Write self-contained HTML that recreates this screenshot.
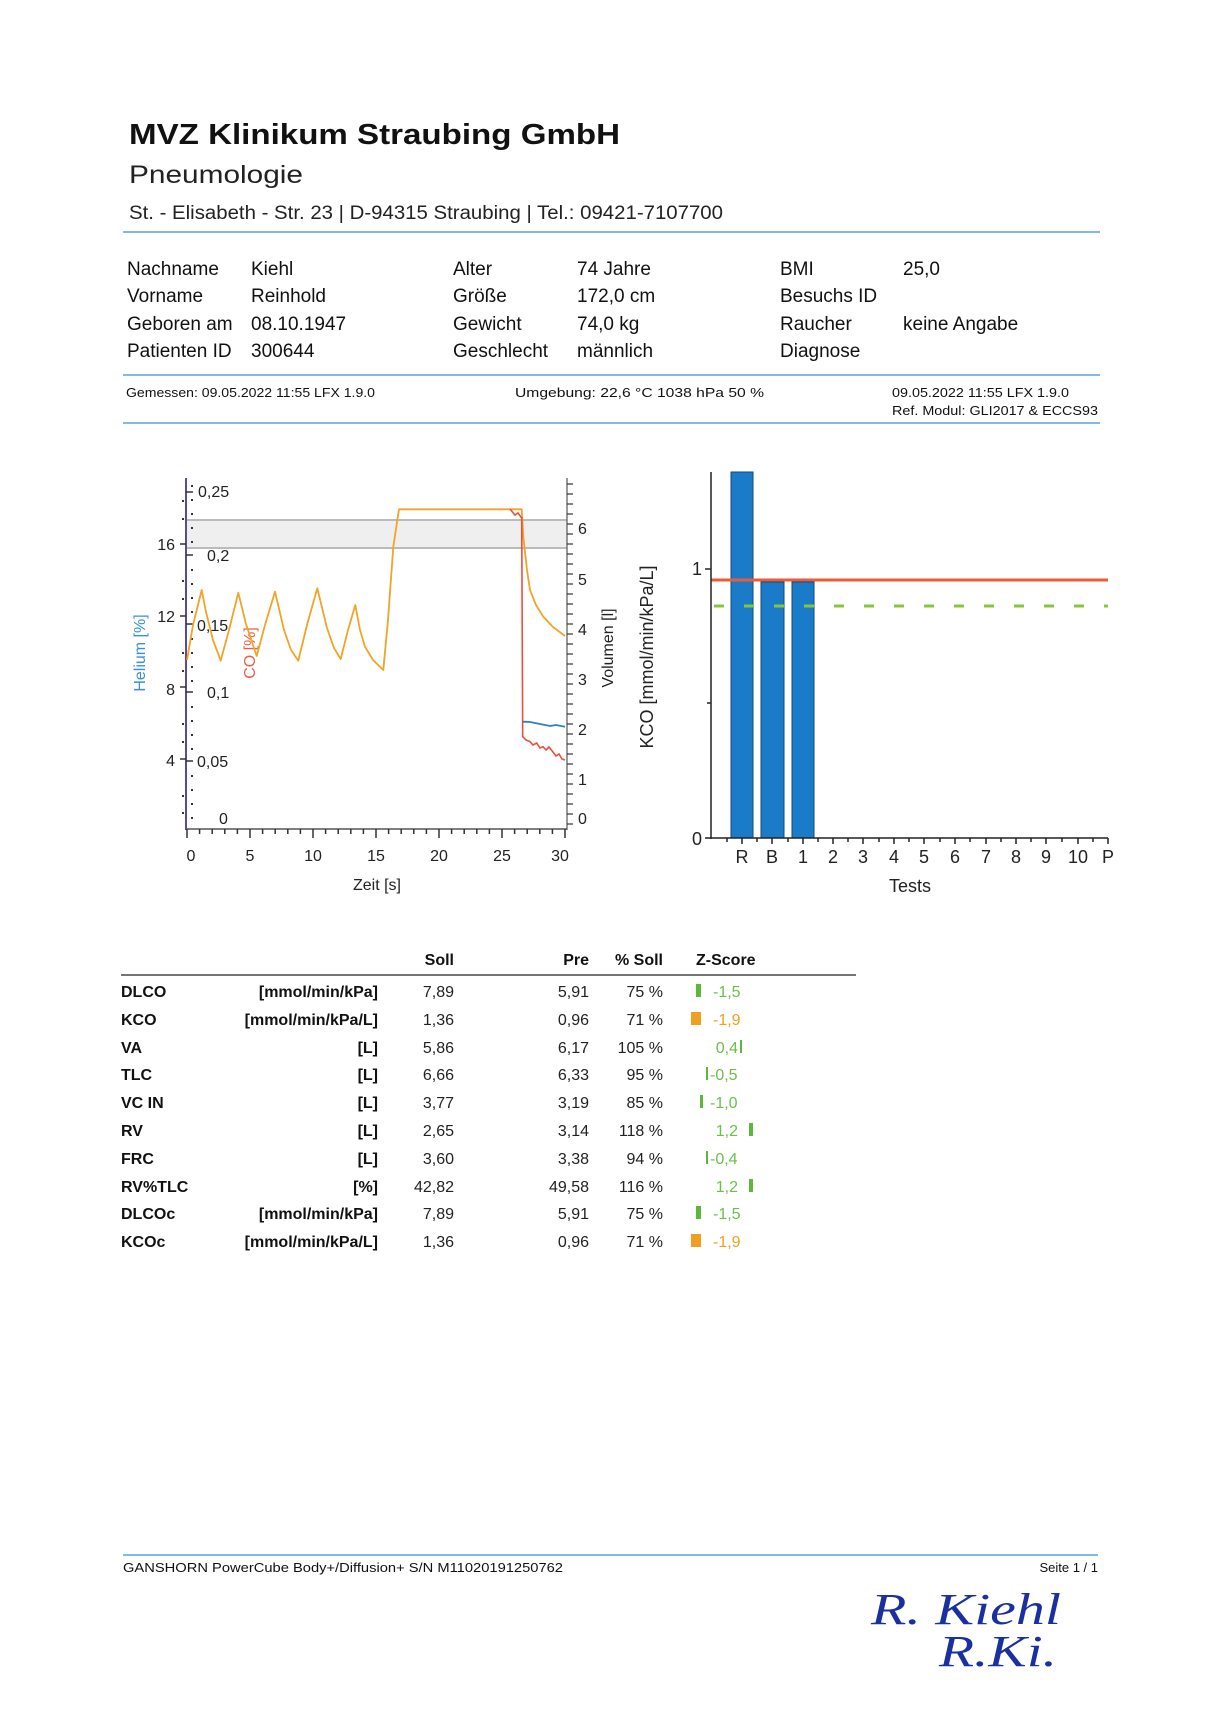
<!DOCTYPE html>
<html><head><meta charset="utf-8"><style>
html,body{margin:0;padding:0;background:#fff;}
svg{display:block;font-family:"Liberation Sans",sans-serif;}
</style></head><body>
<svg width="1217" height="1722" viewBox="0 0 1217 1722" xmlns="http://www.w3.org/2000/svg">
<rect width="1217" height="1722" fill="#fff"/>
<!-- Header -->
<text x="129" y="144" font-size="29" font-weight="bold" fill="#111" textLength="491" lengthAdjust="spacingAndGlyphs">MVZ Klinikum Straubing GmbH</text>
<text x="129" y="183" font-size="25" fill="#222" textLength="174" lengthAdjust="spacingAndGlyphs">Pneumologie</text>
<text x="129" y="219" font-size="19" fill="#222" textLength="594" lengthAdjust="spacingAndGlyphs">St. - Elisabeth - Str. 23 | D-94315 Straubing | Tel.: 09421-7107700</text>
<line x1="123" y1="232" x2="1100" y2="232" stroke="#5aa3d8" stroke-width="1.5"/>
<g font-size="19" fill="#111">
<text x="127" y="275">Nachname</text><text x="251" y="275">Kiehl</text>
<text x="127" y="302">Vorname</text><text x="251" y="302">Reinhold</text>
<text x="127" y="330">Geboren am</text><text x="251" y="330">08.10.1947</text>
<text x="127" y="357">Patienten ID</text><text x="251" y="357">300644</text>
<text x="453" y="275">Alter</text><text x="577" y="275">74 Jahre</text>
<text x="453" y="302">Größe</text><text x="577" y="302">172,0 cm</text>
<text x="453" y="330">Gewicht</text><text x="577" y="330">74,0 kg</text>
<text x="453" y="357">Geschlecht</text><text x="577" y="357">männlich</text>
<text x="780" y="275">BMI</text><text x="903" y="275">25,0</text>
<text x="780" y="302">Besuchs ID</text>
<text x="780" y="330">Raucher</text><text x="903" y="330">keine Angabe</text>
<text x="780" y="357">Diagnose</text>
</g>
<line x1="123" y1="375" x2="1100" y2="375" stroke="#5aa3d8" stroke-width="1.5"/>
<g font-size="13" fill="#111">
<text x="126" y="397" textLength="249" lengthAdjust="spacingAndGlyphs">Gemessen:  09.05.2022 11:55 LFX 1.9.0</text>
<text x="515" y="397" textLength="249" lengthAdjust="spacingAndGlyphs">Umgebung:  22,6 °C   1038 hPa   50 %</text>
<text x="892" y="397" textLength="177" lengthAdjust="spacingAndGlyphs">09.05.2022 11:55   LFX 1.9.0</text>
<text x="892" y="415" textLength="206" lengthAdjust="spacingAndGlyphs">Ref. Modul:   GLI2017 &amp; ECCS93</text>
</g>
<line x1="123" y1="423" x2="1100" y2="423" stroke="#5aa3d8" stroke-width="1.5"/>

<!-- Left chart -->
<rect x="187" y="520" width="380" height="28" fill="#efefef"/>
<line x1="187" y1="520" x2="567" y2="520" stroke="#bbb" stroke-width="2"/>
<line x1="187" y1="548" x2="567" y2="548" stroke="#bbb" stroke-width="2"/>
<line x1="186" y1="478" x2="186" y2="830" stroke="#5a4a9a" stroke-width="2"/>
<line x1="186" y1="829" x2="567" y2="829" stroke="#555" stroke-width="1.5"/>
<line x1="567" y1="478" x2="567" y2="830" stroke="#555" stroke-width="1.2"/>
<g stroke="#333" stroke-width="1.5">
<line x1="180" y1="544" x2="186" y2="544"/><line x1="180" y1="616" x2="186" y2="616"/><line x1="180" y1="687" x2="186" y2="687"/><line x1="180" y1="759" x2="186" y2="759"/>
<line x1="186" y1="492" x2="193" y2="492"/><line x1="186" y1="555" x2="193" y2="555"/><line x1="186" y1="624" x2="193" y2="624"/><line x1="186" y1="692" x2="193" y2="692"/><line x1="186" y1="761" x2="193" y2="761"/>
</g>
<g fill="#333">
<rect x="191" y="485" width="2" height="2"/><rect x="191" y="499" width="2" height="2"/><rect x="191" y="513" width="2" height="2"/><rect x="191" y="527" width="2" height="2"/><rect x="191" y="541" width="2" height="2"/><rect x="191" y="569" width="2" height="2"/><rect x="191" y="583" width="2" height="2"/><rect x="191" y="597" width="2" height="2"/><rect x="191" y="611" width="2" height="2"/><rect x="191" y="638" width="2" height="2"/><rect x="191" y="652" width="2" height="2"/><rect x="191" y="666" width="2" height="2"/><rect x="191" y="680" width="2" height="2"/><rect x="191" y="706" width="2" height="2"/><rect x="191" y="720" width="2" height="2"/><rect x="191" y="734" width="2" height="2"/><rect x="191" y="748" width="2" height="2"/><rect x="191" y="775" width="2" height="2"/><rect x="191" y="789" width="2" height="2"/><rect x="191" y="803" width="2" height="2"/><rect x="191" y="817" width="2" height="2"/>
<rect x="182" y="500" width="2" height="2"/><rect x="182" y="518" width="2" height="2"/><rect x="182" y="580" width="2" height="2"/><rect x="182" y="598" width="2" height="2"/><rect x="182" y="652" width="2" height="2"/><rect x="182" y="670" width="2" height="2"/><rect x="182" y="723" width="2" height="2"/><rect x="182" y="741" width="2" height="2"/><rect x="182" y="795" width="2" height="2"/><rect x="182" y="812" width="2" height="2"/>
</g>
<g stroke="#333" stroke-width="1.2">
<line x1="567" y1="484" x2="573" y2="484"/><line x1="567" y1="494" x2="573" y2="494"/><line x1="567" y1="504" x2="573" y2="504"/><line x1="567" y1="514" x2="573" y2="514"/><line x1="567" y1="524" x2="573" y2="524"/><line x1="567" y1="534" x2="573" y2="534"/><line x1="567" y1="544" x2="573" y2="544"/><line x1="567" y1="554" x2="573" y2="554"/><line x1="567" y1="564" x2="573" y2="564"/><line x1="567" y1="574" x2="573" y2="574"/><line x1="567" y1="584" x2="573" y2="584"/><line x1="567" y1="594" x2="573" y2="594"/><line x1="567" y1="604" x2="573" y2="604"/><line x1="567" y1="614" x2="573" y2="614"/><line x1="567" y1="624" x2="573" y2="624"/><line x1="567" y1="634" x2="573" y2="634"/><line x1="567" y1="644" x2="573" y2="644"/><line x1="567" y1="654" x2="573" y2="654"/><line x1="567" y1="664" x2="573" y2="664"/><line x1="567" y1="674" x2="573" y2="674"/><line x1="567" y1="684" x2="573" y2="684"/><line x1="567" y1="694" x2="573" y2="694"/><line x1="567" y1="704" x2="573" y2="704"/><line x1="567" y1="714" x2="573" y2="714"/><line x1="567" y1="724" x2="573" y2="724"/><line x1="567" y1="734" x2="573" y2="734"/><line x1="567" y1="744" x2="573" y2="744"/><line x1="567" y1="754" x2="573" y2="754"/><line x1="567" y1="764" x2="573" y2="764"/><line x1="567" y1="774" x2="573" y2="774"/><line x1="567" y1="784" x2="573" y2="784"/><line x1="567" y1="794" x2="573" y2="794"/><line x1="567" y1="804" x2="573" y2="804"/><line x1="567" y1="814" x2="573" y2="814"/><line x1="567" y1="824" x2="573" y2="824"/>
</g>
<g stroke="#333" stroke-width="1.5">
<line x1="187" y1="829" x2="187" y2="838"/><line x1="199.6" y1="829" x2="199.6" y2="834"/><line x1="212.2" y1="829" x2="212.2" y2="834"/><line x1="224.8" y1="829" x2="224.8" y2="834"/><line x1="237.4" y1="829" x2="237.4" y2="834"/><line x1="250" y1="829" x2="250" y2="838"/><line x1="262.6" y1="829" x2="262.6" y2="834"/><line x1="275.2" y1="829" x2="275.2" y2="834"/><line x1="287.8" y1="829" x2="287.8" y2="834"/><line x1="300.4" y1="829" x2="300.4" y2="834"/><line x1="313" y1="829" x2="313" y2="838"/><line x1="325.6" y1="829" x2="325.6" y2="834"/><line x1="338.2" y1="829" x2="338.2" y2="834"/><line x1="350.8" y1="829" x2="350.8" y2="834"/><line x1="363.4" y1="829" x2="363.4" y2="834"/><line x1="376" y1="829" x2="376" y2="838"/><line x1="388.6" y1="829" x2="388.6" y2="834"/><line x1="401.2" y1="829" x2="401.2" y2="834"/><line x1="413.8" y1="829" x2="413.8" y2="834"/><line x1="426.4" y1="829" x2="426.4" y2="834"/><line x1="439" y1="829" x2="439" y2="838"/><line x1="451.6" y1="829" x2="451.6" y2="834"/><line x1="464.2" y1="829" x2="464.2" y2="834"/><line x1="476.8" y1="829" x2="476.8" y2="834"/><line x1="489.4" y1="829" x2="489.4" y2="834"/><line x1="502" y1="829" x2="502" y2="838"/><line x1="514.6" y1="829" x2="514.6" y2="834"/><line x1="527.2" y1="829" x2="527.2" y2="834"/><line x1="539.8" y1="829" x2="539.8" y2="834"/><line x1="552.4" y1="829" x2="552.4" y2="834"/><line x1="565" y1="829" x2="565" y2="838"/>
</g>
<g font-size="16" fill="#222">
<text x="175" y="550" text-anchor="end">16</text><text x="175" y="622" text-anchor="end">12</text><text x="175" y="695" text-anchor="end">8</text><text x="175" y="766" text-anchor="end">4</text>
<text x="198" y="497">0,25</text><text x="207" y="561">0,2</text><text x="197" y="631">0,15</text><text x="207" y="698">0,1</text><text x="197" y="767">0,05</text><text x="219" y="824">0</text>
<text x="578" y="534">6</text><text x="578" y="585">5</text><text x="578" y="635">4</text><text x="578" y="685">3</text><text x="578" y="735">2</text><text x="578" y="785">1</text><text x="578" y="824">0</text>
<text x="191" y="861" text-anchor="middle">0</text><text x="250" y="861" text-anchor="middle">5</text><text x="313" y="861" text-anchor="middle">10</text><text x="376" y="861" text-anchor="middle">15</text><text x="439" y="861" text-anchor="middle">20</text><text x="502" y="861" text-anchor="middle">25</text><text x="560" y="861" text-anchor="middle">30</text>
<text x="377" y="890" text-anchor="middle">Zeit [s]</text>
</g>
<text transform="translate(145,653) rotate(-90)" font-size="16" fill="#3a8fd6" text-anchor="middle">Helium [%]</text>
<text transform="translate(255,653) rotate(-90)" font-size="16" fill="#e8604a" text-anchor="middle">CO [%]</text>
<text transform="translate(613,648) rotate(-90)" font-size="16" fill="#222" text-anchor="middle">Volumen [l]</text>
<polyline fill="none" stroke="#f0a428" stroke-width="1.8" stroke-linejoin="round" points="187,660 193,625 201.7,590 206,612 213,640 220.7,660.7 229,630 238.3,592.7 246,624 256.7,656 265,625 275,591.7 284,630 291,650 298.3,660.7 307,625 317.3,588.3 327,628 334,648 340.7,659 348,630 355.3,605 360,630 365,646.7 373,660 383.3,670 388,620 393.3,546.7 399,509.3 521.7,509.3 523.3,536.7 527,570 530,590 536,605 543.3,616.7 553,627 565,636"/>
<polyline fill="none" stroke="#e8503a" stroke-width="1.6" points="510,509 515,515 518,513 521.7,518 522.7,736.7 526,740 530,741.7 533,745 536.7,743 540,748 543,746.7 546,750 549,747 553,752 556,756 559,754 562,759 565,760"/>
<polyline fill="none" stroke="#2a7fcf" stroke-width="1.8" points="522.7,721.7 530,722 540,724 550,726 556,725 565,726.7"/>

<!-- Right chart -->
<rect x="731" y="472" width="22" height="366" fill="#1a7cc8" stroke="#124a7a" stroke-width="1"/>
<rect x="761" y="582" width="23" height="256" fill="#1a7cc8" stroke="#124a7a" stroke-width="1"/>
<rect x="792" y="582" width="22" height="256" fill="#1a7cc8" stroke="#124a7a" stroke-width="1"/>
<line x1="711" y1="580" x2="1108" y2="580" stroke="#ee5a35" stroke-width="3"/>
<line x1="714" y1="606" x2="1108" y2="606" stroke="#8ac43a" stroke-width="3" stroke-dasharray="10,20"/>
<line x1="711" y1="472" x2="711" y2="839" stroke="#222" stroke-width="1.5"/>
<line x1="705" y1="838" x2="1108" y2="838" stroke="#222" stroke-width="1.5"/>
<g stroke="#222" stroke-width="1.5">
<line x1="705" y1="569" x2="711" y2="569"/><line x1="707" y1="703" x2="711" y2="703"/>
<line x1="727" y1="838" x2="727" y2="842"/><line x1="742" y1="838" x2="742" y2="844"/><line x1="757" y1="838" x2="757" y2="842"/><line x1="772" y1="838" x2="772" y2="844"/><line x1="788" y1="838" x2="788" y2="842"/><line x1="803" y1="838" x2="803" y2="844"/><line x1="818" y1="838" x2="818" y2="842"/><line x1="833" y1="838" x2="833" y2="844"/><line x1="848" y1="838" x2="848" y2="842"/><line x1="863" y1="838" x2="863" y2="844"/><line x1="879" y1="838" x2="879" y2="842"/><line x1="894" y1="838" x2="894" y2="844"/><line x1="909" y1="838" x2="909" y2="842"/><line x1="924" y1="838" x2="924" y2="844"/><line x1="940" y1="838" x2="940" y2="842"/><line x1="955" y1="838" x2="955" y2="844"/><line x1="970" y1="838" x2="970" y2="842"/><line x1="986" y1="838" x2="986" y2="844"/><line x1="1001" y1="838" x2="1001" y2="842"/><line x1="1016" y1="838" x2="1016" y2="844"/><line x1="1031" y1="838" x2="1031" y2="842"/><line x1="1046" y1="838" x2="1046" y2="844"/><line x1="1062" y1="838" x2="1062" y2="842"/><line x1="1078" y1="838" x2="1078" y2="844"/><line x1="1093" y1="838" x2="1093" y2="842"/><line x1="1108" y1="838" x2="1108" y2="844"/>
</g>
<g font-size="18" fill="#222">
<text x="702" y="575" text-anchor="end">1</text><text x="702" y="845" text-anchor="end">0</text>
<g text-anchor="middle"><text x="742" y="863">R</text><text x="772" y="863">B</text><text x="803" y="863">1</text><text x="833" y="863">2</text><text x="863" y="863">3</text><text x="894" y="863">4</text><text x="924" y="863">5</text><text x="955" y="863">6</text><text x="986" y="863">7</text><text x="1016" y="863">8</text><text x="1046" y="863">9</text><text x="1078" y="863">10</text><text x="1108" y="863">P</text>
<text x="910" y="892">Tests</text></g>
</g>
<text transform="translate(653,657) rotate(-90)" font-size="18" fill="#222" text-anchor="middle">KCO [mmol/min/kPa/L]</text>

<!-- Table -->
<g font-size="16" font-weight="bold" fill="#111">
<text x="454" y="965" text-anchor="end">Soll</text>
<text x="589" y="965" text-anchor="end">Pre</text>
<text x="663" y="965" text-anchor="end">% Soll</text>
<text x="696" y="965">Z-Score</text>
</g>
<line x1="121" y1="975" x2="856" y2="975" stroke="#222" stroke-width="1.2"/>
<g font-size="16" fill="#222">
<g font-weight="bold" fill="#111">
<text x="121" y="997">DLCO</text><text x="378" y="997" text-anchor="end">[mmol/min/kPa]</text>
<text x="121" y="1025">KCO</text><text x="378" y="1025" text-anchor="end">[mmol/min/kPa/L]</text>
<text x="121" y="1053">VA</text><text x="378" y="1053" text-anchor="end">[L]</text>
<text x="121" y="1080">TLC</text><text x="378" y="1080" text-anchor="end">[L]</text>
<text x="121" y="1108">VC IN</text><text x="378" y="1108" text-anchor="end">[L]</text>
<text x="121" y="1136">RV</text><text x="378" y="1136" text-anchor="end">[L]</text>
<text x="121" y="1164">FRC</text><text x="378" y="1164" text-anchor="end">[L]</text>
<text x="121" y="1192">RV%TLC</text><text x="378" y="1192" text-anchor="end">[%]</text>
<text x="121" y="1219">DLCOc</text><text x="378" y="1219" text-anchor="end">[mmol/min/kPa]</text>
<text x="121" y="1247">KCOc</text><text x="378" y="1247" text-anchor="end">[mmol/min/kPa/L]</text>
</g>
<g text-anchor="end">
<text x="454" y="997">7,89</text><text x="589" y="997">5,91</text><text x="663" y="997">75 %</text>
<text x="454" y="1025">1,36</text><text x="589" y="1025">0,96</text><text x="663" y="1025">71 %</text>
<text x="454" y="1053">5,86</text><text x="589" y="1053">6,17</text><text x="663" y="1053">105 %</text>
<text x="454" y="1080">6,66</text><text x="589" y="1080">6,33</text><text x="663" y="1080">95 %</text>
<text x="454" y="1108">3,77</text><text x="589" y="1108">3,19</text><text x="663" y="1108">85 %</text>
<text x="454" y="1136">2,65</text><text x="589" y="1136">3,14</text><text x="663" y="1136">118 %</text>
<text x="454" y="1164">3,60</text><text x="589" y="1164">3,38</text><text x="663" y="1164">94 %</text>
<text x="454" y="1192">42,82</text><text x="589" y="1192">49,58</text><text x="663" y="1192">116 %</text>
<text x="454" y="1219">7,89</text><text x="589" y="1219">5,91</text><text x="663" y="1219">75 %</text>
<text x="454" y="1247">1,36</text><text x="589" y="1247">0,96</text><text x="663" y="1247">71 %</text>
</g>
</g>
<g font-size="16">
<rect x="696" y="984" width="5" height="13" fill="#5cb83a"/><text x="713" y="997" fill="#6cc04a">-1,5</text>
<rect x="691" y="1012" width="10" height="13" fill="#f0a020"/><text x="713" y="1025" fill="#f0a020">-1,9</text>
<text x="738" y="1053" fill="#6cc04a" text-anchor="end">0,4</text><rect x="740" y="1040" width="2" height="13" fill="#5cb83a"/>
<rect x="706" y="1067" width="2" height="13" fill="#5cb83a"/><text x="710" y="1080" fill="#6cc04a">-0,5</text>
<rect x="700" y="1095" width="3" height="13" fill="#5cb83a"/><text x="710" y="1108" fill="#6cc04a">-1,0</text>
<text x="738" y="1136" fill="#6cc04a" text-anchor="end">1,2</text><rect x="749" y="1123" width="4" height="13" fill="#5cb83a"/>
<rect x="706" y="1151" width="2" height="13" fill="#5cb83a"/><text x="710" y="1164" fill="#6cc04a">-0,4</text>
<text x="738" y="1192" fill="#6cc04a" text-anchor="end">1,2</text><rect x="749" y="1179" width="4" height="13" fill="#5cb83a"/>
<rect x="696" y="1206" width="5" height="13" fill="#5cb83a"/><text x="713" y="1219" fill="#6cc04a">-1,5</text>
<rect x="691" y="1234" width="10" height="13" fill="#f0a020"/><text x="713" y="1247" fill="#f0a020">-1,9</text>
</g>

<!-- Footer -->
<line x1="123" y1="1555" x2="1098" y2="1555" stroke="#5aa3d8" stroke-width="1.5"/>
<text x="123" y="1572" font-size="13" fill="#111" textLength="440" lengthAdjust="spacingAndGlyphs">GANSHORN PowerCube Body+/Diffusion+   S/N M11020191250762</text>
<text x="1098" y="1572" font-size="13" fill="#111" text-anchor="end">Seite   1 / 1</text>
<text x="871" y="1624" font-family="Liberation Serif,serif" font-style="italic" font-size="44" fill="#1a2fa0" textLength="190" lengthAdjust="spacingAndGlyphs">R. Kiehl</text>
<text x="939" y="1666" font-family="Liberation Serif,serif" font-style="italic" font-size="44" fill="#1a2fa0" textLength="118" lengthAdjust="spacingAndGlyphs">R.Ki.</text>
</svg>
</body></html>
